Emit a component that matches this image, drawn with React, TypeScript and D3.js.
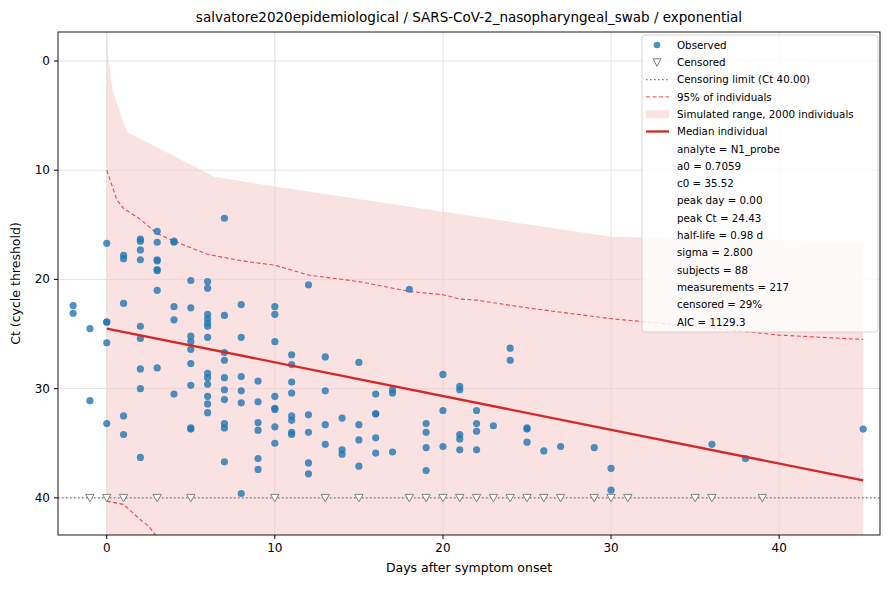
import { useEffect } from "react";
import * as d3 from "d3";

// observed [day, Ct]
const OBS: [number, number][] = [
  [-2, 22.4], [-2, 23.1], [-1, 24.5], [-1, 31.1],
  [0, 16.7], [0, 23.9], [0, 23.9], [0, 25.8], [0, 33.2],
  [1, 17.8], [1, 18.1], [1, 22.2], [1, 32.5], [1, 34.2],
  [2, 16.3], [2, 16.5], [2, 17.3], [2, 18.2], [2, 24.3], [2, 25.4], [2, 28.2], [2, 30.0], [2, 36.3],
  [3, 15.6], [3, 16.6], [3, 18.2], [3, 18.3], [3, 19.1], [3, 19.2], [3, 21.0], [3, 28.1],
  [4, 16.5], [4, 16.6], [4, 22.5], [4, 23.7], [4, 30.5],
  [5, 20.1], [5, 22.6], [5, 25.2], [5, 25.7], [5, 26.4], [5, 27.7], [5, 29.7], [5, 33.6], [5, 33.7],
  [6, 20.2], [6, 20.8], [6, 23.2], [6, 23.6], [6, 24.0], [6, 24.3], [6, 25.3], [6, 28.6], [6, 29.0], [6, 29.6], [6, 30.7], [6, 31.4], [6, 32.2],
  [7, 14.4], [7, 23.3], [7, 26.7], [7, 27.4], [7, 29.0], [7, 30.1], [7, 31.0], [7, 33.2], [7, 33.6], [7, 36.7],
  [8, 22.3], [8, 25.3], [8, 28.9], [8, 30.2], [8, 31.3], [8, 39.6],
  [9, 29.3], [9, 31.2], [9, 33.1], [9, 33.8], [9, 36.4], [9, 37.4],
  [10, 22.5], [10, 23.2], [10, 25.7], [10, 30.7], [10, 31.8], [10, 31.9], [10, 33.5], [10, 35.0],
  [11, 26.9], [11, 27.8], [11, 29.4], [11, 30.4], [11, 32.5], [11, 32.9], [11, 34.0], [11, 34.2],
  [12, 20.5], [12, 32.4], [12, 34.0], [12, 36.8], [12, 37.8],
  [13, 27.1], [13, 30.2], [13, 33.3], [13, 35.1],
  [14, 32.7], [14, 35.6], [14, 36.0],
  [15, 27.6], [15, 33.3], [15, 34.7], [15, 37.1],
  [16, 30.5], [16, 32.3], [16, 32.3], [16, 34.5], [16, 35.9],
  [17, 30.1], [17, 30.4], [17, 35.8],
  [18, 20.9],
  [19, 33.2], [19, 34.0], [19, 35.4], [19, 37.5],
  [20, 28.7], [20, 32.0], [20, 35.3],
  [21, 29.8], [21, 30.1], [21, 34.2], [21, 34.6], [21, 35.6],
  [22, 32.0], [22, 33.2], [22, 33.9], [22, 35.6],
  [23, 33.4], [24, 26.3], [24, 27.4], [25, 33.6], [25, 33.7], [25, 34.9],
  [26, 35.7], [27, 35.3], [29, 35.4], [30, 37.3], [30, 39.3],
  [36, 35.1], [38, 36.4], [45, 33.7],
];
const CENSORED_DAYS = [-1, 0, 1, 3, 5, 10, 13, 15, 18, 19, 20, 21, 22, 23, 24, 25, 26, 27, 29, 30, 31, 35, 36, 39];
const LOD = 40;
const MEDIAN: [number, number][] = [[0, 24.5], [45, 38.4]];
const BAND_TOP: [number, number][] = [
  [0, -3], [0.1, 0], [0.35, 2.7], [1, 5.7], [1.2, 6.5], [6.4, 10.6], [10, 11.5], [20, 13.8], [30, 16.1], [45, 16.6],
];
const BAND_BOTTOM = 45;
const UPPER95: [number, number][] = [
  [0, 10], [0.6, 12.7], [1, 13.5], [2, 14.5], [3, 15.8], [4, 16.5], [6, 17.7], [8, 18.3], [10, 18.7], [12, 19.6],
  [15, 20.2], [18, 21.1], [20, 21.4], [21, 21.8], [22, 21.9], [25, 22.6], [30, 23.6], [35, 24.3], [40, 25.1], [45, 25.5],
];
const LOWER95: [number, number][] = [[0, 40.3], [1, 40.6], [2, 42], [2.5, 42.6], [3, 43.6]];
const X_TICKS = [0, 10, 20, 30, 40];
const Y_TICKS = [0, 10, 20, 30, 40];
const STATS = [
  "analyte = N1_probe", "a0 = 0.7059", "c0 = 35.52", "peak day = 0.00", "peak Ct = 24.43",
  "half-life = 0.98 d", "sigma = 2.800", "subjects = 88", "measurements = 217", "censored = 29%", "AIC = 1129.3",
];

const W = 890, H = 590;
const M = { left: 58, right: 10, top: 32, bottom: 55 };
const FONT = "DejaVu Sans, sans-serif";

export default function App() {
  useEffect(() => {
    document.body.style.margin = "0";
    const svg = d3.select("#chart");
    svg.selectAll("*").remove();
    const iw = W - M.left - M.right, ih = H - M.top - M.bottom;
    const x = d3.scaleLinear().domain([-2.9, 46.0]).range([0, iw]);
    const y = d3.scaleLinear().domain([-2.65, 43.4]).range([0, ih]);
    svg.append("defs").append("clipPath").attr("id", "clip")
      .append("rect").attr("width", iw).attr("height", ih);
    const g = svg.append("g").attr("transform", `translate(${M.left},${M.top})`).style("font-family", FONT);
    const pg = g.append("g").attr("clip-path", "url(#clip)");

    // grid
    X_TICKS.forEach((t) => pg.append("line").attr("x1", x(t)).attr("x2", x(t)).attr("y1", 0).attr("y2", ih).attr("stroke", "#e3e3e3"));
    Y_TICKS.forEach((t) => pg.append("line").attr("y1", y(t)).attr("y2", y(t)).attr("x1", 0).attr("x2", iw).attr("stroke", "#e3e3e3"));

    // band
    const area = d3.area<[number, number]>().x((d) => x(d[0])).y0(y(BAND_BOTTOM)).y1((d) => y(d[1]));
    pg.append("path").attr("d", area(BAND_TOP)).attr("fill", "#f5c6c6").attr("opacity", 0.5);

    const line = d3.line<[number, number]>().x((d) => x(d[0])).y((d) => y(d[1]));
    [UPPER95, LOWER95].forEach((s) =>
      pg.append("path").attr("d", line(s)).attr("fill", "none").attr("stroke", "#e8484a").attr("stroke-width", 1.1).attr("stroke-dasharray", "4,2.5"));

    pg.append("line").attr("x1", 0).attr("x2", iw).attr("y1", y(LOD)).attr("y2", y(LOD))
      .attr("stroke", "#777").attr("stroke-width", 1.2).attr("stroke-dasharray", "1.5,2.5");

    OBS.forEach(([d, c]) =>
      pg.append("circle").attr("cx", x(d)).attr("cy", y(c)).attr("r", 3.6).attr("fill", "#1f77b4").attr("opacity", 0.8));

    CENSORED_DAYS.forEach((d) => {
      const cx = x(d), cy = y(LOD);
      pg.append("path").attr("d", `M${cx - 4.2},${cy - 3.5}L${cx + 4.2},${cy - 3.5}L${cx},${cy + 4}Z`)
        .attr("fill", "white").attr("stroke", "#808080").attr("stroke-width", 1);
    });

    pg.append("path").attr("d", line(MEDIAN)).attr("fill", "none").attr("stroke", "#d62728").attr("stroke-width", 2.3);

    // frame
    g.append("rect").attr("width", iw).attr("height", ih).attr("fill", "none").attr("stroke", "black").attr("stroke-width", 0.9);

    X_TICKS.forEach((t) => {
      g.append("line").attr("x1", x(t)).attr("x2", x(t)).attr("y1", ih).attr("y2", ih + 4).attr("stroke", "black");
      g.append("text").attr("x", x(t)).attr("y", ih + 17).attr("text-anchor", "middle").attr("font-size", 12).text(t);
    });
    Y_TICKS.forEach((t) => {
      g.append("line").attr("x1", 0).attr("x2", -4).attr("y1", y(t)).attr("y2", y(t)).attr("stroke", "black");
      g.append("text").attr("x", -8).attr("y", y(t) + 4).attr("text-anchor", "end").attr("font-size", 12).text(t);
    });
    g.append("text").attr("x", iw / 2).attr("y", ih + 37).attr("text-anchor", "middle").attr("font-size", 12.5).text("Days after symptom onset");
    g.append("text").attr("transform", `translate(${-38},${ih / 2}) rotate(-90)`).attr("text-anchor", "middle").attr("font-size", 12.5).text("Ct (cycle threshold)");
    svg.append("text").attr("x", M.left + iw / 2).attr("y", 22).attr("text-anchor", "middle").attr("font-size", 13.5)
      .style("font-family", FONT).text("salvatore2020epidemiological / SARS-CoV-2_nasopharyngeal_swab / exponential");

    // legend
    const lx = 642 - M.left, ly = 35 - M.top;
    const lg = g.append("g").attr("transform", `translate(${lx},${ly})`);
    lg.append("rect").attr("width", 236).attr("height", 297).attr("rx", 3).attr("fill", "white").attr("opacity", 0.85).attr("stroke", "#d0d0d0");
    const rowH = 17.3, tx = 35, fs = 10.3;
    const labels = ["Observed", "Censored", "Censoring limit (Ct 40.00)", "95% of individuals", "Simulated range, 2000 individuals", "Median individual", ...STATS];
    labels.forEach((l, i) => {
      const cy = 10 + i * rowH;
      lg.append("text").attr("x", tx).attr("y", cy + 3.7).attr("font-size", fs).text(l);
      if (i === 0) lg.append("circle").attr("cx", 15).attr("cy", cy).attr("r", 3.3).attr("fill", "#1f77b4").attr("opacity", 0.8);
      if (i === 1) lg.append("path").attr("d", `M${11},${cy - 3.5}L${19},${cy - 3.5}L${15},${cy + 4}Z`).attr("fill", "white").attr("stroke", "#808080");
      if (i === 2) lg.append("line").attr("x1", 4).attr("x2", 27).attr("y1", cy).attr("y2", cy).attr("stroke", "#777").attr("stroke-width", 1.2).attr("stroke-dasharray", "1.5,2.5");
      if (i === 3) lg.append("line").attr("x1", 4).attr("x2", 27).attr("y1", cy).attr("y2", cy).attr("stroke", "#e8484a").attr("stroke-dasharray", "4,2.5");
      if (i === 4) lg.append("rect").attr("x", 4).attr("y", cy - 4).attr("width", 23).attr("height", 8).attr("fill", "#f5c6c6").attr("opacity", 0.5);
      if (i === 5) lg.append("line").attr("x1", 4).attr("x2", 27).attr("y1", cy).attr("y2", cy).attr("stroke", "#d62728").attr("stroke-width", 2.3);
    });
  }, []);

  return <svg id="chart" width={W} height={H} style={{ display: "block", background: "white" }} />;
}
